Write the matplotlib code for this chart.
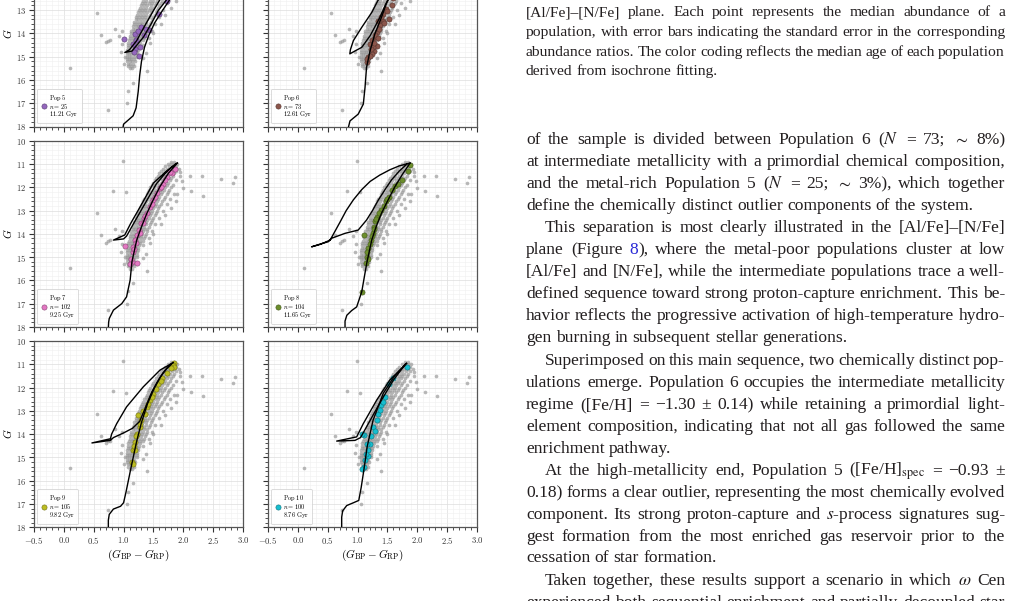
import matplotlib
matplotlib.use('Agg')
import matplotlib.pyplot as plt
import matplotlib.transforms as mtransforms
import matplotlib.colors as mcolors
from matplotlib.ticker import MultipleLocator, FuncFormatter

plt.rcParams['mathtext.fontset'] = 'cm'
plt.rcParams['font.family'] = ['Liberation Serif', 'DejaVu Serif']

# full sample (grey background, same in every panel): rows of (G, colours)
gray_rows = [
    (10.9, [1.80, 1.85]),
    (11.0, [1.74, 1.79, 1.84, 1.89]),
    (11.1, [1.70, 1.76, 1.81, 1.87]),
    (11.2, [1.66, 1.72, 1.78, 1.84, 1.92]),
    (11.3, [1.63, 1.69, 1.75, 1.81, 1.88]),
    (11.4, [1.60, 1.66, 1.72, 1.78, 1.85]),
    (11.5, [1.57, 1.63, 1.69, 1.75, 1.82, 1.94]),
    (11.6, [1.55, 1.61, 1.67, 1.73, 1.80]),
    (11.7, [1.52, 1.58, 1.64, 1.70, 1.77, 1.88]),
    (11.8, [1.50, 1.56, 1.62, 1.68, 1.75]),
    (11.9, [1.48, 1.53, 1.59, 1.65, 1.72, 1.83]),
    (12.0, [1.45, 1.51, 1.57, 1.63, 1.70, 1.79]),
    (12.1, [1.43, 1.49, 1.55, 1.61, 1.67, 1.76]),
    (12.2, [1.41, 1.47, 1.52, 1.58, 1.65, 1.74]),
    (12.3, [1.39, 1.44, 1.50, 1.56, 1.63, 1.72, 1.84]),
    (12.4, [1.37, 1.42, 1.48, 1.54, 1.60, 1.69]),
    (12.5, [1.35, 1.40, 1.46, 1.52, 1.58, 1.67, 1.78]),
    (12.6, [1.33, 1.38, 1.44, 1.50, 1.56, 1.65]),
    (12.7, [1.31, 1.36, 1.42, 1.48, 1.54, 1.62, 1.72]),
    (12.8, [1.29, 1.35, 1.40, 1.46, 1.52, 1.60]),
    (12.9, [1.27, 1.33, 1.38, 1.44, 1.50, 1.58]),
    (13.0, [1.26, 1.31, 1.36, 1.42, 1.48, 1.56, 1.66]),
    (13.1, [1.24, 1.29, 1.35, 1.40, 1.46, 1.54]),
    (13.2, [1.23, 1.28, 1.33, 1.38, 1.44, 1.52]),
    (13.3, [1.21, 1.26, 1.31, 1.36, 1.42, 1.50, 1.60]),
    (13.4, [1.20, 1.25, 1.30, 1.35, 1.40, 1.48]),
    (13.5, [1.18, 1.23, 1.28, 1.33, 1.38, 1.46]),
    (13.6, [1.17, 1.22, 1.27, 1.31, 1.37, 1.44, 1.53]),
    (13.7, [1.16, 1.21, 1.25, 1.30, 1.35, 1.42]),
    (13.8, [1.15, 1.19, 1.24, 1.29, 1.34, 1.40]),
    (13.9, [1.13, 1.18, 1.23, 1.27, 1.32, 1.39, 1.47]),
    (14.0, [1.12, 1.17, 1.22, 1.26, 1.31, 1.37]),
    (14.1, [1.11, 1.16, 1.20, 1.25, 1.30, 1.36]),
    (14.2, [1.10, 1.15, 1.19, 1.24, 1.29, 1.35, 1.42]),
    (14.3, [1.09, 1.14, 1.18, 1.23, 1.28, 1.33]),
    (14.4, [1.08, 1.13, 1.17, 1.22, 1.27]),
    (14.5, [1.07, 1.12, 1.16, 1.21, 1.26, 1.32]),
    (14.6, [1.07, 1.11, 1.15, 1.20, 1.25]),
    (14.7, [1.06, 1.10, 1.15, 1.19, 1.24]),
    (14.8, [1.06, 1.10, 1.14, 1.18, 1.23]),
    (14.9, [1.05, 1.09, 1.13, 1.18, 1.22]),
    (15.0, [1.05, 1.09, 1.13, 1.17, 1.22]),
    (15.1, [1.05, 1.09, 1.13, 1.17]),
    (15.2, [1.06, 1.10, 1.14, 1.19]),
    (15.3, [1.07, 1.11, 1.15]),
    (15.4, [1.08, 1.12, 1.17]),
    (15.5, [1.10, 1.14]),
]
gray_out_c = [0.10, 0.55, 0.63, 0.71, 0.745, 0.78, 0.86, 0.92, 0.97, 1.40, 1.16, 1.08, 1.06,
              0.745, 0.99, 0.83, 1.04, 2.00, 2.11, 2.13, 2.31, 2.33, 2.63, 2.86, 2.83, 1.95,
              1.98, 1.90, 1.88, 1.80, 1.70, 1.62, 1.50, 1.45, 1.38, 1.33, 0.95, 1.00, 1.02, 0.98]
gray_out_g = [15.47, 13.12, 14.07, 14.38, 14.31, 14.28, 13.80, 14.10, 14.45, 15.60, 16.11, 16.47, 17.01,
              17.27, 10.86, 12.16, 12.22, 12.05, 11.50, 12.18, 11.52, 12.38, 11.63, 11.56, 11.80, 11.35,
              11.75, 12.30, 12.60, 12.90, 13.20, 13.60, 14.00, 14.40, 14.85, 15.05, 14.80, 15.30, 15.00, 13.90]

pop_names = ['5', '6', '7', '8', '9', '10']
pop_n = [25, 73, 102, 104, 105, 100]
pop_age = ['11.21', '12.61', '9.25', '11.65', '9.82', '8.76']
pop_colors = ['#9467bd', '#8c564b', '#e377c2', '#6c8e2c', '#bcbd22', '#17becf']

pop5_c = [1.01, 1.19, 1.25, 1.30, 1.43, 1.37, 1.28, 1.19, 1.26, 1.18, 1.15, 1.21, 1.60, 1.72, 1.34, 1.80, 1.90]
pop5_g = [14.24, 14.02, 13.88, 13.74, 13.85, 13.80, 14.60, 14.67, 14.98, 14.82, 14.45, 14.30, 13.15, 12.62, 14.05, 12.30, 11.90]
pop6_c = [1.58, 1.52, 1.42, 1.38, 1.32, 1.29, 1.21, 1.32, 1.28, 1.24, 1.15, 1.18, 1.35, 1.43, 1.47,
          1.40, 1.36, 1.30, 1.25, 1.26, 1.22, 1.20, 1.16, 1.34, 1.45, 1.27, 1.50, 1.60, 1.70]
pop6_g = [12.76, 13.37, 13.45, 13.66, 13.95, 14.17, 14.45, 14.53, 14.74, 14.88, 15.25, 15.03, 13.45, 13.16, 12.95,
          13.30, 13.80, 14.05, 14.30, 14.60, 14.65, 14.95, 15.10, 14.20, 13.55, 14.40, 13.05, 12.50, 12.20]
pop7_c = [1.81, 1.77, 1.72, 1.66, 1.61, 1.56, 1.50, 1.44, 1.39, 1.34, 1.30, 1.26, 1.23, 1.19, 1.15, 1.16,
          1.14, 1.11, 1.22, 1.02, 1.28, 1.33, 1.36, 1.20, 1.18, 1.13, 1.47, 1.53, 1.63, 1.69, 1.86]
pop7_g = [11.39, 11.36, 11.55, 11.85, 12.04, 12.25, 12.55, 12.83, 13.12, 13.34, 13.55, 13.84, 14.05, 14.27, 14.55, 14.80,
          15.20, 15.30, 15.27, 14.53, 13.98, 13.55, 13.25, 14.40, 14.65, 15.10, 12.70, 12.40, 12.00, 11.70, 11.20]
pop8_c = [1.87, 1.84, 1.74, 1.57, 1.52, 1.47, 1.39, 1.33, 1.30, 1.28, 1.26, 1.22, 1.18, 1.15,
          1.14, 1.11, 1.07, 1.62, 1.44, 1.36, 1.24, 1.20, 1.16, 1.17, 1.27, 1.31, 1.68, 1.50]
pop8_g = [11.06, 11.32, 11.68, 12.11, 12.40, 12.61, 12.97, 13.26, 13.47, 13.69, 13.98, 14.27, 14.63, 14.99,
          15.27, 14.05, 16.49, 11.95, 12.80, 13.10, 14.10, 14.45, 14.80, 15.10, 13.80, 13.35, 11.85, 12.50]
pop9_c = [1.84, 1.82, 1.85, 1.80, 1.72, 1.65, 1.58, 1.54, 1.50, 1.44, 1.39, 1.36, 1.30, 1.27,
          1.23, 1.19, 1.15, 1.19, 1.14, 1.15, 1.24, 1.33, 1.21, 1.28, 1.17, 1.47, 1.62, 1.41]
pop9_g = [10.93, 11.05, 11.12, 11.18, 11.39, 11.60, 11.83, 12.05, 12.26, 12.54, 12.83, 13.12, 13.41, 13.69,
          13.98, 14.34, 14.70, 14.67, 15.20, 15.27, 13.20, 13.00, 14.10, 13.55, 14.50, 12.40, 11.70, 12.70]
pop10_c = [1.82, 1.52, 1.46, 1.40, 1.35, 1.32, 1.26, 1.10, 1.07, 1.21, 1.18, 1.15, 1.12, 1.10,
           1.08, 1.23, 1.29, 1.38, 1.43, 1.17, 1.14, 1.60]
pop10_g = [11.11, 11.83, 12.40, 12.76, 13.12, 13.41, 13.69, 14.05, 13.98, 14.41, 14.70, 14.41, 15.13, 15.42,
           15.48, 14.10, 13.85, 12.95, 12.60, 14.95, 14.85, 11.60]

# isochrones: RGB and HB/AGB branch, (colour, G)
iso5_rgb_c = [0.99, 1.00, 1.08, 1.16, 1.21, 1.245, 1.27, 1.30, 1.35, 1.42, 1.52, 1.63, 1.76, 1.92, 2.05]
iso5_rgb_g = [18.05, 17.90, 17.72, 17.54, 17.20, 16.50, 15.80, 15.20, 14.60, 14.10, 13.55, 13.10, 12.60, 12.00, 11.50]
iso5_agb_c = [1.90, 1.75, 1.60, 1.50, 1.36, 1.22, 1.10, 1.02, 1.14, 1.24, 1.33, 1.46, 1.58, 1.71, 1.85, 1.98]
iso5_agb_g = [11.60, 12.05, 12.59, 13.02, 13.65, 14.31, 14.70, 14.82, 14.76, 14.45, 14.17, 13.60, 13.02, 12.59, 12.10, 11.65]
iso6_rgb_c = [0.845, 0.873, 1.01, 1.096, 1.125, 1.15, 1.21, 1.29, 1.40, 1.50, 1.68, 1.85]
iso6_rgb_g = [18.05, 17.76, 17.47, 17.04, 16.32, 15.46, 14.74, 14.02, 13.31, 12.59, 12.00, 11.40]
iso6_agb_c = [1.70, 1.52, 1.34, 1.24, 1.07, 0.93, 0.88, 0.87, 0.96, 1.07, 1.21, 1.375, 1.47, 1.62, 1.78]
iso6_agb_g = [11.50, 12.05, 12.59, 13.09, 13.74, 14.31, 14.70, 14.88, 14.75, 14.60, 14.10, 13.31, 12.75, 12.10, 11.50]
iso7_rgb_c = [0.745, 0.75, 0.76, 0.83, 0.97, 1.05, 1.11, 1.14, 1.22, 1.30, 1.39, 1.50, 1.61, 1.75, 1.90]
iso7_rgb_g = [18.05, 17.80, 17.64, 17.28, 17.00, 16.71, 15.99, 15.20, 14.27, 13.70, 13.12, 12.52, 11.97, 11.40, 10.96]
iso7_agb_c = [1.90, 1.70, 1.50, 1.28, 1.12, 1.02, 0.83, 1.00, 1.05, 1.17, 1.33, 1.55, 1.75, 1.88]
iso7_agb_g = [10.96, 11.35, 11.82, 12.83, 13.55, 14.05, 14.27, 14.22, 14.10, 13.55, 12.83, 11.85, 11.25, 10.98]
iso8_rgb_c = [0.79, 0.79, 0.82, 0.90, 0.985, 1.07, 1.11, 1.153, 1.237, 1.31, 1.40, 1.51, 1.627, 1.75, 1.879]
iso8_rgb_g = [18.05, 17.75, 17.50, 17.30, 17.14, 16.49, 15.90, 15.27, 14.27, 13.70, 13.12, 12.55, 11.97, 11.45, 10.96]
iso8_agb_c = [1.879, 1.70, 1.54, 1.37, 1.21, 1.07, 0.93, 0.81, 0.71, 0.62, 0.54, 0.38, 0.23, 0.40, 0.51,
              0.567, 0.79, 1.01, 1.15, 1.25, 1.35, 1.46, 1.57, 1.70, 1.82]
iso8_agb_g = [10.96, 11.08, 11.25, 11.48, 11.75, 12.10, 12.54, 13.00, 13.48, 13.90, 14.27, 14.45, 14.56, 14.42, 14.34,
              14.19, 13.98, 13.84, 13.41, 13.00, 12.54, 12.10, 11.68, 11.30, 11.02]
iso9_rgb_c = [0.745, 0.745, 0.76, 0.83, 0.95, 1.00, 1.04, 1.08, 1.12, 1.17, 1.22, 1.30, 1.40, 1.52, 1.65, 1.76, 1.83]
iso9_rgb_g = [18.05, 17.70, 17.45, 17.22, 17.10, 16.95, 16.50, 16.00, 15.50, 14.90, 14.30, 13.50, 12.70, 12.00, 11.40, 11.05, 10.93]
iso9_agb_c = [1.83, 1.61, 1.33, 1.05, 0.885, 0.80, 0.78, 0.47, 0.78, 0.83, 1.00, 1.15, 1.27, 1.36, 1.47, 1.60, 1.72, 1.80]
iso9_agb_g = [10.93, 11.25, 11.97, 12.83, 13.55, 14.00, 14.20, 14.38, 14.27, 14.15, 13.95, 13.75, 13.45, 12.90, 12.20, 11.60, 11.20, 11.00]
iso10_rgb_c = [0.734, 0.734, 0.75, 0.818, 0.93, 1.02, 1.06, 1.096, 1.13, 1.16, 1.26, 1.43, 1.62, 1.82]
iso10_rgb_g = [18.05, 17.57, 17.30, 17.07, 16.95, 16.85, 16.30, 15.70, 15.10, 14.55, 13.40, 12.25, 11.50, 10.96]
iso10_agb_c = [1.82, 1.54, 1.32, 1.096, 0.985, 0.65, 0.957, 1.05, 1.18, 1.40, 1.60, 1.80]
iso10_agb_g = [10.96, 11.68, 12.54, 13.55, 14.12, 14.30, 14.27, 14.15, 13.55, 12.54, 11.68, 11.00]

panels = [
    (pop5_c, pop5_g, iso5_rgb_c, iso5_rgb_g, iso5_agb_c, iso5_agb_g),
    (pop6_c, pop6_g, iso6_rgb_c, iso6_rgb_g, iso6_agb_c, iso6_agb_g),
    (pop7_c, pop7_g, iso7_rgb_c, iso7_rgb_g, iso7_agb_c, iso7_agb_g),
    (pop8_c, pop8_g, iso8_rgb_c, iso8_rgb_g, iso8_agb_c, iso8_agb_g),
    (pop9_c, pop9_g, iso9_rgb_c, iso9_rgb_g, iso9_agb_c, iso9_agb_g),
    (pop10_c, pop10_g, iso10_rgb_c, iso10_rgb_g, iso10_agb_c, iso10_agb_g),
]

# page text to the right of the figure
caption = [
    (12.7, True, "[Al/Fe]\u2013[N/Fe] plane. Each point represents the median abundance of a"),
    (32.3, True, "population, with error bars indicating the standard error in the corresponding"),
    (52.0, True, "abundance ratios. The color coding reflects the median age of each population"),
    (71.7, False, "derived from isochrone fitting."),
]
body = [
    (140, 0, True, "of the sample is divided between Population 6 ($N$ = 73; $\\sim$ 8%)"),
    (162, 0, True, "at intermediate metallicity with a primordial chemical composition,"),
    (184, 0, True, "and the metal-rich Population 5 ($N$ = 25; $\\sim$ 3%), which together"),
    (206, 0, False, "define the chemically distinct outlier components of the system."),
    (228, 1, True, "This separation is most clearly illustrated in the [Al/Fe]\u2013[N/Fe]"),
    (250, 0, True, "plane (Figure @8@), where the metal-poor populations cluster at low"),
    (272, 0, True, "[Al/Fe] and [N/Fe], while the intermediate populations trace a well-"),
    (294, 0, True, "defined sequence toward strong proton-capture enrichment. This be-"),
    (316, 0, True, "havior reflects the progressive activation of high-temperature hydro-"),
    (338, 0, False, "gen burning in subsequent stellar generations."),
    (361, 1, True, "Superimposed on this main sequence, two chemically distinct pop-"),
    (383, 0, True, "ulations emerge. Population 6 occupies the intermediate metallicity"),
    (405, 0, True, "regime ([Fe/H] = \u22121.30 \u00b1 0.14) while retaining a primordial light-"),
    (427, 0, True, "element composition, indicating that not all gas followed the same"),
    (449, 0, False, "enrichment pathway."),
    (471, 1, True, "At the high-metallicity end, Population 5 ([Fe/H]$_{\\mathrm{spec}}$ = \u22120.93 \u00b1"),
    (493, 0, True, "0.18) forms a clear outlier, representing the most chemically evolved"),
    (515, 0, True, "component. Its strong proton-capture and $s$-process signatures sug-"),
    (537, 0, True, "gest formation from the most enriched gas reservoir prior to the"),
    (558, 0, False, "cessation of star formation."),
    (581, 1, True, "Taken together, these results support a scenario in which $\\omega$ Cen"),
    (603, 0, True, "experienced both sequential enrichment and partially decoupled star"),
]

W, H = 1020, 601
ink = '#231f20'
link = '#2a2ad6'
ident = mtransforms.IdentityTransform()


def darker(col, f=0.6):
    """Darker edge colour for the markers"""
    r, g, b = mcolors.to_rgb(col)
    return (r * f, g * f, b * f)


def put_line(fig, rend, line, x0, x1, y, size, justify):
    """Writes one line of page text, spread over x0..x1 when justified"""
    words = []
    for w in line.split(' '):
        parts = []
        wid = 0.0
        for k, seg in enumerate(w.split('@')):
            if seg == '':
                continue
            t = fig.text(0, 0, seg, fontsize=size, color=link if k % 2 else ink,
                         transform=ident, ha='left', va='baseline', math_fontfamily='stix')
            parts.append((t, wid))
            wid += t.get_window_extent(rend).width
        words.append((parts, wid))
    total = sum(w[1] for w in words)
    if justify and len(words) > 1:
        gap = (x1 - x0 - total) / (len(words) - 1)
    else:
        gap = 0.25 * size * fig.dpi / 72
    x = x0
    for parts, wid in words:
        for t, off in parts:
            t.set_position((x + off, H - y))
        x += wid + gap


fig = plt.figure(figsize=(10.2, 6.01), dpi=100)
col_x = [34, 268]
row_top = [-59.7, 140.7, 341.0]
ax_w, ax_h = 209, 186.2

gray_c = []
gray_g = []
for g, cs in gray_rows:
    for c in cs:
        gray_c.append(c)
        gray_g.append(g)
gray_c += gray_out_c
gray_g += gray_out_g

for i in range(6):
    r, c = divmod(i, 2)
    ax = fig.add_axes([col_x[c] / W, 1 - (row_top[r] + ax_h) / H, ax_w / W, ax_h / H])
    pc, pg, rc, rg, ac, ag = panels[i]
    col = pop_colors[i]

    ax.scatter(gray_c, gray_g, s=7, color='#9a9a9a', alpha=0.7, lw=0, zorder=2)
    label = ('$\\mathrm{Pop\\ %s}$\n$n = %d$\n$\\mathrm{%s\\ Gyr}$'
             % (pop_names[i], pop_n[i], pop_age[i]))
    ax.scatter(pc, pg, s=14, color=col, edgecolor=darker(col), lw=0.4, zorder=3, label=label)
    ax.plot(rc, rg, color='k', lw=1.0, zorder=4)
    ax.plot(ac, ag, color='k', lw=1.0, zorder=4)

    ax.set_xlim(-0.5, 3.0)
    ax.set_ylim(18, 10)
    ax.xaxis.set_major_locator(MultipleLocator(0.5))
    ax.xaxis.set_minor_locator(MultipleLocator(0.1))
    ax.yaxis.set_major_locator(MultipleLocator(1))
    ax.yaxis.set_minor_locator(MultipleLocator(0.2))
    ax.xaxis.set_major_formatter(FuncFormatter(lambda v, p: '$%.1f$' % v))
    ax.yaxis.set_major_formatter(FuncFormatter(lambda v, p: '$%d$' % round(v)))
    ax.grid(which='major', color='#dddddd', lw=0.5, zorder=0)
    ax.grid(which='minor', color='#efefef', lw=0.4, zorder=0)
    ax.set_axisbelow(True)
    ax.tick_params(which='major', direction='out', length=3.5, width=0.8, labelsize=6.2,
                   pad=2, colors='#333333')
    ax.tick_params(which='minor', direction='out', length=2, width=0.6, colors='#333333')
    for sp in ax.spines.values():
        sp.set_color('#555555')
        sp.set_linewidth(0.9)
    if c == 0:
        ax.set_ylabel('$G$', fontsize=8, labelpad=1.5)
    else:
        ax.tick_params(labelleft=False)
    if r == 2:
        ax.set_xlabel('$(G_{\\rm BP} - G_{\\rm RP})$', fontsize=8, labelpad=1)
    else:
        ax.tick_params(labelbottom=False)

    leg = ax.legend(loc='lower left', fontsize=4.6, frameon=True, borderpad=0.6,
                    handletextpad=0.2, handlelength=1.0, borderaxespad=0.5, labelspacing=0.2)
    leg.get_frame().set_edgecolor('#cccccc')
    leg.get_frame().set_linewidth(0.6)
    for t in leg.get_texts():
        t.set_linespacing(0.85)

rend = fig.canvas.get_renderer()
for y, just, line in caption:
    put_line(fig, rend, line, 526, 1005, y + 3.6, 11.15, just)
for y, indent, just, line in body:
    put_line(fig, rend, line, 526 + 19 * indent, 1005, y + 4.1, 12.6, just)

fig.savefig('out.png', dpi=100)
